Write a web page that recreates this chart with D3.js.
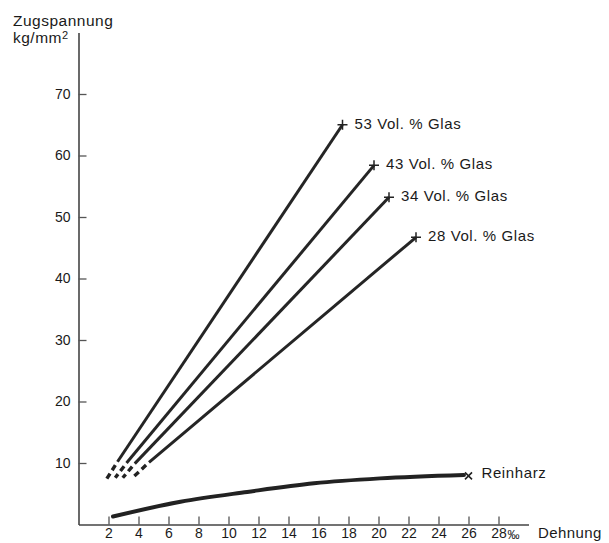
<!DOCTYPE html>
<html>
<head>
<meta charset="utf-8">
<script src="https://cdn.jsdelivr.net/npm/d3@7"></script>
<style>
  body { margin: 0; background: #fff; }
  svg text { font-family: "Liberation Sans", Arial, sans-serif; fill: #1a1a1a; }
</style>
</head>
<body>
<div id="chart"></div>
<script>
// tick values
var xTicks = [2, 4, 6, 8, 10, 12, 14, 16, 18, 20, 22, 24, 26, 28];
var yTicks = [10, 20, 30, 40, 50, 60, 70];

// glass fibre series: label, dashed start, solid start, break point (+)
var glassNames = ['53 Vol. % Glas', '43 Vol. % Glas', '34 Vol. % Glas', '28 Vol. % Glas'];
var glassDashStart = [[1.85, 7.3], [2.45, 7.6], [2.95, 7.6], [3.6, 7.6]];
var glassSolidStart = [[2.6, 10.2], [3.2, 10.0], [3.75, 9.9], [4.7, 10.1]];
var glassBreak = [[17.6, 65.0], [19.7, 58.4], [20.7, 53.2], [22.5, 46.7]];

// pure resin
var resinName = 'Reinharz';
var resinX = [2.3, 6.8, 11.25, 15.7, 20.1, 25.7];
var resinY = [1.3, 3.7, 5.3, 6.7, 7.5, 8.05];
var resinBreak = [26.0, 7.9];

var width = 609, height = 543;

var svg = d3.select('#chart').append('svg')
    .attr('width', width)
    .attr('height', height);

var x = d3.scaleLinear().domain([0, 30]).range([78.5, 528.5]);
var y = d3.scaleLinear().domain([0, 80]).range([524.5, 32.5]);

var xAxis = svg.append('g')
    .attr('transform', 'translate(0,' + y(0) + ')')
    .call(d3.axisBottom(x).tickValues(xTicks).tickSizeInner(-8).tickSizeOuter(0).tickPadding(4)
        .tickFormat(function(d) { return d; }));

var yAxis = svg.append('g')
    .attr('transform', 'translate(' + x(0) + ',0)')
    .call(d3.axisLeft(y).tickValues(yTicks).tickSizeInner(-8).tickSizeOuter(0).tickPadding(8));

svg.selectAll('.domain').attr('stroke', '#444').attr('stroke-width', 1.6);
svg.selectAll('.tick line').attr('stroke', '#555').attr('stroke-width', 1.3);
svg.selectAll('.tick text')
    .style('font-size', '14px')
    .style('font-family', '"Liberation Sans", Arial, sans-serif')
    .attr('fill', '#2a2a2a');

// per mille sign after the last tick
svg.append('text')
    .attr('x', x(28) + 9)
    .attr('y', y(0) + 14)
    .style('font-size', '12px')
    .text('‰');

svg.append('text')
    .attr('x', 538)
    .attr('y', 538)
    .style('font-size', '15px')
    .style('letter-spacing', '0.4px')
    .text('Dehnung');

svg.append('text')
    .attr('x', 13)
    .attr('y', 26)
    .style('font-size', '15.5px')
    .style('letter-spacing', '0.5px')
    .text('Zugspannung');

svg.append('text')
    .attr('x', 13)
    .attr('y', 43)
    .style('font-size', '15.5px')
    .style('letter-spacing', '0.5px')
    .html('kg/mm<tspan dy="-4" font-size="11px">2</tspan>');

var line = d3.line()
    .x(function(d) { return x(d[0]); })
    .y(function(d) { return y(d[1]); });

var curve = d3.line()
    .x(function(d) { return x(d[0]); })
    .y(function(d) { return y(d[1]); })
    .curve(d3.curveMonotoneX);

glassNames.forEach(function(name, i) {
    svg.append('path')
        .attr('d', line([glassSolidStart[i], glassDashStart[i]]))
        .attr('fill', 'none')
        .attr('stroke', '#222')
        .attr('stroke-width', 3.4)
        .attr('stroke-dasharray', '6,4')
        .attr('stroke-dashoffset', 6);

    svg.append('path')
        .attr('d', line([glassSolidStart[i], glassBreak[i]]))
        .attr('fill', 'none')
        .attr('stroke', '#252525')
        .attr('stroke-width', 3);

    var bx = x(glassBreak[i][0]), by = y(glassBreak[i][1]);
    svg.append('path')
        .attr('d', 'M' + (bx - 5) + ',' + by + 'H' + (bx + 5) + 'M' + bx + ',' + (by - 5) + 'V' + (by + 5))
        .attr('stroke', '#222')
        .attr('stroke-width', 1.5);

    svg.append('text')
        .attr('x', bx + 12)
        .attr('y', by + 4)
        .style('font-size', '15px')
        .style('letter-spacing', '0.6px')
        .text(name);
});

var resinPts = resinX.map(function(v, i) { return [v, resinY[i]]; });
svg.append('path')
    .attr('d', curve(resinPts))
    .attr('fill', 'none')
    .attr('stroke', '#222')
    .attr('stroke-width', 4)
    .attr('stroke-linecap', 'round');

var rx = x(resinBreak[0]), ry = y(resinBreak[1]);
svg.append('path')
    .attr('d', 'M' + (rx - 3.5) + ',' + (ry - 3.5) + 'L' + (rx + 3.5) + ',' + (ry + 3.5) +
               'M' + (rx - 3.5) + ',' + (ry + 3.5) + 'L' + (rx + 3.5) + ',' + (ry - 3.5))
    .attr('stroke', '#222')
    .attr('stroke-width', 1.6);

svg.append('text')
    .attr('x', rx + 13)
    .attr('y', ry + 2)
    .style('font-size', '15px')
    .style('letter-spacing', '0.6px')
    .text(resinName);
</script>
</body>
</html>
